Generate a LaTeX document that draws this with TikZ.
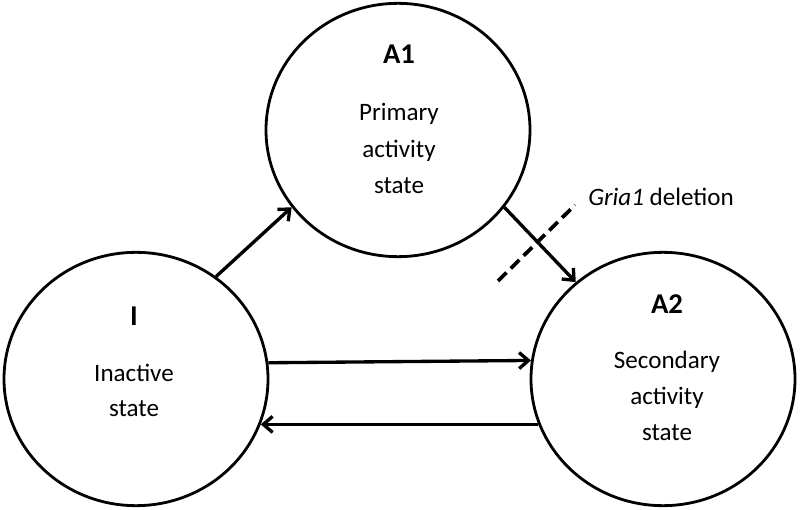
\documentclass[tikz,border=0pt]{standalone}
\usepackage{fontspec}
\setmainfont{Carlito}
\usetikzlibrary{shapes.geometric,arrows.meta}
\begin{document}
\begin{tikzpicture}[x=0.75pt,y=-0.75pt,
  state/.style={draw,ellipse,line width=2.1pt,minimum width=198pt,minimum height=190pt,inner sep=0pt},
  ttl/.style={anchor=base,font=\fontsize{21.5}{27}\selectfont\bfseries,inner sep=0pt},
  txt/.style={anchor=base,font=\fontsize{18.8}{27}\selectfont,inner sep=0pt},
  conn/.style={line width=2.5pt,-{Straight Barb[length=7pt,width=12pt,line width=2.5pt]}},
  cut/.style={line width=2.8pt,dash pattern=on 9pt off 4.5pt}]
\useasboundingbox (0,0) rectangle (800,510);
\node[state] (I) at (136,379) {};
\node[state] (A1) at (398,130) {};
\node[state] (A2) at (663,379) {};
% labels
\node[ttl] (A1t) at (399,64) {A1};
\node[txt] (A1a) at (399,121) {Primary};
\node[txt] (A1b) at (399,157) {activity};
\node[txt] (A1c) at (399,193) {state};
\node[ttl] (It) at (134,325) {I};
\node[txt] (Ia) at (134,381) {Inactive};
\node[txt] (Ib) at (134,416) {state};
\node[ttl] (A2t) at (667,313) {A2};
\node[txt] (A2a) at (667,368) {Secondary};
\node[txt] (A2b) at (667,404) {activity};
\node[txt] (A2c) at (667,440) {state};
\node[txt,anchor=base west] (del) at (588,205) {\textit{Gria1} deletion};
% connectors
\draw[conn] (I.52) -- (A1.216);
\draw[conn] (A1.324) -- (A2.132);
\draw[conn] (I.7.7) -- (A2.172.3);
\draw[conn] (A2.200) -- (I.-20);
\coordinate (d1) at (498,281);
\coordinate (d2) at (575,205);
\draw[cut] (d1) -- (d2);
\end{tikzpicture}
\end{document}
